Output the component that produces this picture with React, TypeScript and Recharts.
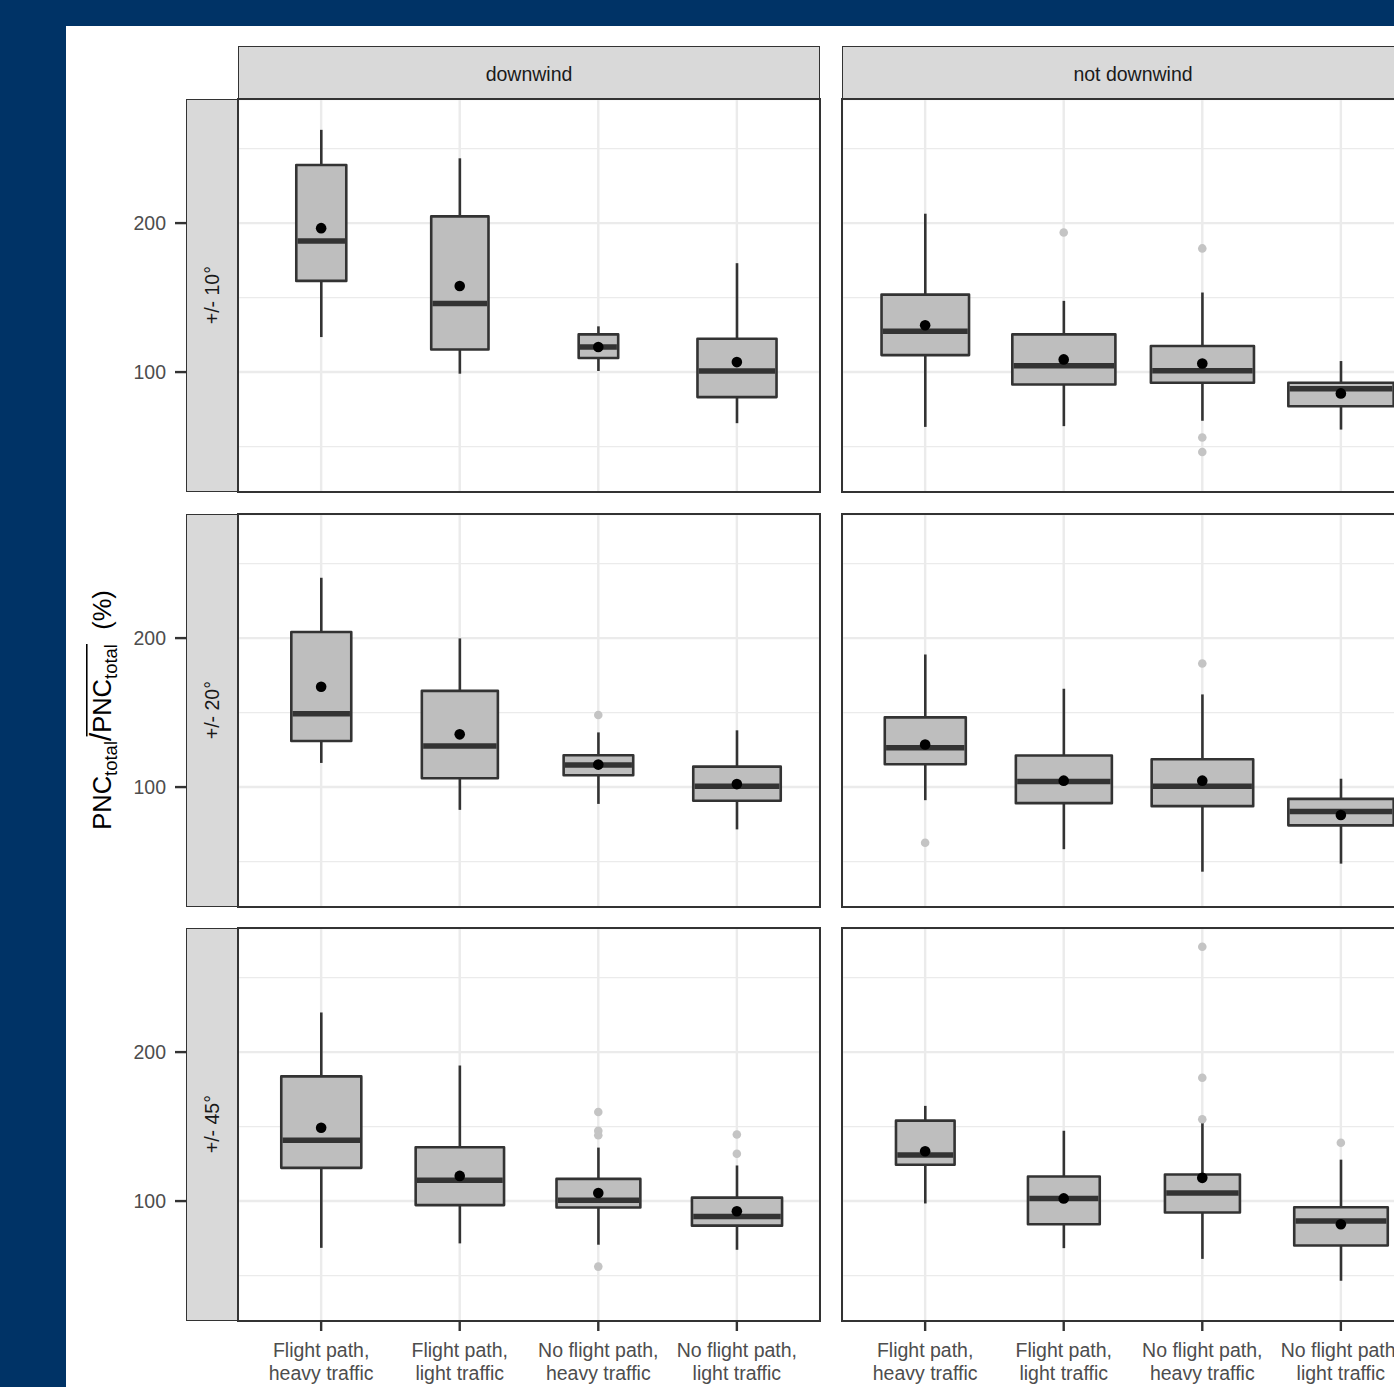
import React, { useLayoutEffect, useRef, useState } from "react";
import { ComposedChart, Bar, Scatter, XAxis, YAxis, CartesianGrid } from "recharts";

const FONT = '"Liberation Sans", Arial, Helvetica, sans-serif';

// ---------- data ----------
const CATEGORIES = [
  "Flight path,\nheavy traffic",
  "Flight path,\nlight traffic",
  "No flight path,\nheavy traffic",
  "No flight path,\nlight traffic",
];
const WIND_LABELS = ["downwind", "not downwind"];
const ANGLE_LABELS = ["+/- 10°", "+/- 20°", "+/- 45°"];
const Y_TICKS = [50, 100, 150, 200, 250];
const Y_LABELLED = [100, 200];
const Y_DOMAIN: [number, number] = [19.5, 283.3];

// Panels in reading order:
// 0: ±10° downwind, 1: ±10° not downwind, 2: ±20° downwind,
// 3: ±20° not downwind, 4: ±45° downwind, 5: ±45° not downwind
const WHISKER_LOW = [
  [123.5, 98.9, 100.7, 65.7],
  [63.2, 63.7, 67.3, 61.4],
  [116.2, 84.7, 88.7, 71.6],
  [91.2, 58.3, 43.2, 48.6],
  [68.6, 71.6, 70.7, 67.3],
  [98.4, 68.4, 61.2, 46.5],
];
const Q1 = [
  [161.2, 115.2, 109.4, 83.2],
  [111.4, 91.7, 92.8, 77.1],
  [130.9, 105.9, 107.9, 90.8],
  [115.3, 89.2, 87.2, 74.3],
  [122.3, 97.3, 95.7, 83.5],
  [124.4, 84.4, 92.3, 70.2],
];
const MEDIAN = [
  [187.9, 146.0, 116.8, 100.7],
  [127.4, 104.3, 100.9, 88.8],
  [149.3, 127.5, 114.9, 100.5],
  [126.4, 103.8, 100.5, 83.6],
  [140.9, 114.0, 100.5, 89.6],
  [130.9, 101.8, 105.4, 86.7],
];
const Q3 = [
  [239.0, 204.5, 125.3, 122.4],
  [152.0, 125.3, 117.5, 92.8],
  [204.1, 164.6, 121.4, 113.7],
  [146.8, 121.2, 118.7, 92.1],
  [183.7, 136.1, 114.9, 102.3],
  [154.0, 116.5, 117.8, 95.9],
];
const WHISKER_HIGH = [
  [262.6, 243.5, 130.7, 173.1],
  [206.3, 147.8, 153.4, 107.4],
  [240.5, 199.8, 136.7, 138.1],
  [189.0, 166.0, 162.2, 105.6],
  [226.6, 191.0, 135.9, 123.9],
  [163.9, 147.2, 152.6, 127.8],
];
const MEAN = [
  [196.6, 157.8, 116.8, 106.7],
  [131.4, 108.5, 105.8, 85.7],
  [167.3, 135.4, 115.1, 102.0],
  [128.6, 104.3, 104.3, 81.3],
  [149.2, 116.9, 105.4, 93.2],
  [133.4, 101.8, 115.6, 84.4],
];
// estimated group sizes (box width ∝ sqrt(n))
const N_OBS = [
  [16, 21, 10, 40],
  [49, 68, 68, 71],
  [23, 37, 31, 49],
  [42, 59, 66, 71],
  [41, 50, 45, 52],
  [22, 33, 36, 56],
];
const N_REF = 100;
// outliers: [panel, category index, value]
const OUTLIERS: [number, number, number][] = [
  [1, 1, 193.7],
  [1, 2, 183.0],
  [1, 2, 56.1],
  [1, 2, 46.4],
  [2, 2, 148.4],
  [3, 0, 62.6],
  [3, 2, 182.9],
  [4, 2, 159.8],
  [4, 2, 147.2],
  [4, 2, 144.2],
  [4, 2, 56.0],
  [4, 3, 144.7],
  [4, 3, 131.8],
  [5, 2, 270.7],
  [5, 2, 182.8],
  [5, 2, 154.9],
  [5, 3, 139.1],
];
const OUT_KEYS = ["out0", "out1", "out2", "out3"];

function panelRows(p: number) {
  return CATEGORIES.map((cat, i) => {
    const outs = OUTLIERS.filter((o) => o[0] === p && o[1] === i).map((o) => o[2]);
    const row: any = {
      cat,
      whisker: [WHISKER_LOW[p][i], WHISKER_HIGH[p][i]],
      box: [Q1[p][i], Q3[p][i]],
      median: [MEDIAN[p][i], MEDIAN[p][i]],
      mean: MEAN[p][i],
      n: N_OBS[p][i],
    };
    OUT_KEYS.forEach((k, j) => {
      row[k] = outs[j] ?? null;
    });
    return row;
  });
}

// ---------- layout / style ----------
const BLUE = "#003366";
const PANEL_W = 582;
const PANEL_H = 393;
const COL_X = [238, 842];
const ROW_Y = [99, 514, 928];
const YAXIS_W = 138;
const XAXIS_H = 67;
const STRIP_TOP_Y = 46;
const STRIP_LEFT_X = 186;
const DARK = "#333333";
const GRID = "#ebebeb";
const BOX_FILL = "#bebebe";
const TEXT_SIZE = 19.5;

const WhiskerShape = (props: any) => {
  const { x, y, width, height } = props;
  if (x == null || y == null) return <g />;
  const cx = x + width / 2;
  return <line x1={cx} x2={cx} y1={y} y2={y + height} stroke={DARK} strokeWidth={2.6} />;
};

const BoxShape = (props: any) => {
  const { x, y, width, height, payload } = props;
  if (x == null || y == null) return <g />;
  const w = width * Math.sqrt(payload.n / N_REF);
  const cx = x + width / 2;
  const top = Math.min(y, y + height);
  const h = Math.abs(height);
  return (
    <rect
      x={cx - w / 2}
      y={top}
      width={w}
      height={h}
      fill={BOX_FILL}
      stroke={DARK}
      strokeWidth={2.6}
      strokeLinejoin="round"
    />
  );
};

const MedianShape = (props: any) => {
  const { x, y, width, height, payload } = props;
  if (x == null || y == null) return <g />;
  const w = width * Math.sqrt(payload.n / N_REF);
  const cx = x + width / 2;
  const my = y + (height || 0) / 2;
  return <line x1={cx - w / 2 + 1.3} x2={cx + w / 2 - 1.3} y1={my} y2={my} stroke={DARK} strokeWidth={5.5} />;
};

const outlierShape = (key: string) => (props: any) => {
  const { cx, cy, payload } = props;
  if (!payload || payload[key] == null || cx == null || cy == null || isNaN(cy)) return <g />;
  return <circle cx={cx} cy={cy} r={4.3} fill="#c4c4c4" />;
};

const MeanShape = (props: any) => {
  const { cx, cy } = props;
  if (cx == null || cy == null) return <g />;
  return <circle cx={cx} cy={cy} r={5.3} fill="#000000" />;
};

const gridH = (props: any) => (
  <line
    key={props.key}
    x1={props.x1}
    y1={props.y1}
    x2={props.x2}
    y2={props.y2}
    stroke={GRID}
    strokeWidth={props.index % 2 === 1 ? 2.4 : 1.2}
  />
);
const gridV = (props: any) => (
  <line key={props.key} x1={props.x1} y1={props.y1} x2={props.x2} y2={props.y2} stroke={GRID} strokeWidth={2.4} />
);

const XTick = (props: any) => {
  const { x, y, payload } = props;
  const lines = String(payload.value).split("\n");
  return (
    <g>
      <line x1={x} x2={x} y1={y} y2={y + 10} stroke={DARK} strokeWidth={2.4} />
      <text x={x} y={y + 36} textAnchor="middle" fontSize={TEXT_SIZE} fill="#4d4d4d" fontFamily={FONT}>
        {lines.map((l, i) => (
          <tspan key={i} x={x} dy={i === 0 ? 0 : 23}>
            {l}
          </tspan>
        ))}
      </text>
    </g>
  );
};

const EmptyTick = () => <g />;

const YTick = (props: any) => {
  const { x, y, payload } = props;
  if (!Y_LABELLED.includes(payload.value)) return <g />;
  return (
    <g>
      <line x1={x - 63} x2={x - 52} y1={y} y2={y} stroke={DARK} strokeWidth={2.4} />
      <text x={x - 72} y={y + 7} textAnchor="end" fontSize={TEXT_SIZE} fill="#4d4d4d" fontFamily={FONT}>
        {payload.value}
      </text>
    </g>
  );
};

function Panel({ row, col }: { row: number; col: number }) {
  const p = row * 2 + col;
  const data = panelRows(p);
  const isLeft = col === 0;
  const isBottom = row === ROW_Y.length - 1;
  const width = PANEL_W + (isLeft ? YAXIS_W : 0);
  const height = PANEL_H + (isBottom ? XAXIS_H : 0);
  const left = COL_X[col] - (isLeft ? YAXIS_W : 0);
  const top = ROW_Y[row];
  const padPx = (PANEL_W * 0.1) / 4.2;
  const pad = { left: padPx, right: padPx };
  return (
    <div style={{ position: "absolute", left, top }}>
      <ComposedChart
        width={width}
        height={height}
        data={data}
        margin={{ top: 0, right: 0, bottom: 0, left: 0 }}
        barCategoryGap="5%"
      >
        <CartesianGrid horizontal={gridH} vertical={gridV} />
        <XAxis
          dataKey="cat"
          type="category"
          padding={pad}
          interval={0}
          tickLine={false}
          axisLine={false}
          tickSize={0}
          tickMargin={0}
          height={isBottom ? XAXIS_H : 0}
          tick={isBottom ? XTick : EmptyTick}
        />
        <XAxis xAxisId="box" dataKey="cat" type="category" padding={pad} hide />
        <XAxis xAxisId="med" dataKey="cat" type="category" padding={pad} hide />
        <YAxis
          type="number"
          domain={Y_DOMAIN}
          ticks={Y_TICKS}
          interval={0}
          allowDataOverflow
          width={isLeft ? YAXIS_W : 0}
          tick={isLeft ? YTick : EmptyTick}
          tickLine={false}
          axisLine={false}
          tickSize={0}
          tickMargin={0}
        />
        <Bar dataKey="whisker" shape={WhiskerShape} isAnimationActive={false} />
        <Bar xAxisId="box" dataKey="box" shape={BoxShape} isAnimationActive={false} />
        <Bar xAxisId="med" dataKey="median" shape={MedianShape} isAnimationActive={false} />
        {OUT_KEYS.map((k) => (
          <Scatter key={k} dataKey={k} shape={outlierShape(k)} isAnimationActive={false} />
        ))}
        <Scatter dataKey="mean" shape={MeanShape} isAnimationActive={false} />
      </ComposedChart>
    </div>
  );
}

const TITLE_SIZE = 25.5;
const SUB_SIZE = 18.5;

function YTitle() {
  const ref = useRef<SVGTextElement>(null);
  const [ol, setOl] = useState<[number, number] | null>(null);
  useLayoutEffect(() => {
    const t = ref.current;
    if (!t) return;
    try {
      const a = t.getStartPositionOfChar(8).x;
      const b = t.getEndPositionOfChar(16).x;
      setOl([a, b]);
    } catch (e) {
      /* ignore */
    }
  }, []);
  return (
    <svg
      style={{ position: "absolute", left: 66, top: 26, overflow: "visible" }}
      width={110}
      height={1361}
    >
      <g transform={`translate(${111 - 66},${710 - 26}) rotate(-90)`}>
        <text ref={ref} textAnchor="middle" fontFamily={FONT} fontSize={TITLE_SIZE} fill="#000">
          <tspan>PNC</tspan>
          <tspan fontSize={SUB_SIZE} dy={6}>
            total
          </tspan>
          <tspan dy={-6} fontSize={TITLE_SIZE * 1.15}>
            /
          </tspan>
          <tspan>PNC</tspan>
          <tspan fontSize={SUB_SIZE} dy={6}>
            total
          </tspan>
          <tspan dy={-6}>{"\u00a0\u00a0(%)"}</tspan>
        </text>
        {ol && (
          <line
            x1={ol[0] + TITLE_SIZE * 0.18}
            x2={ol[1]}
            y1={-TITLE_SIZE * 0.95}
            y2={-TITLE_SIZE * 0.95}
            stroke="#000"
            strokeWidth={1.6}
          />
        )}
      </g>
    </svg>
  );
}

export default function App() {
  return (
    <div
      style={{
        position: "absolute",
        left: 0,
        top: 0,
        width: 1394,
        height: 1387,
        overflow: "hidden",
        background: BLUE,
        fontFamily: FONT,
      }}
    >
      <div style={{ position: "absolute", left: 66, top: 26, width: 1328, height: 1361, background: "#ffffff" }} />
      <YTitle />
      {ROW_Y.map((_, r) =>
        COL_X.map((__, c) => <Panel key={`${r}-${c}`} row={r} col={c} />)
      )}
      {/* column strips */}
      {WIND_LABELS.map((lab, c) => (
        <div
          key={lab}
          style={{
            position: "absolute",
            left: COL_X[c],
            top: STRIP_TOP_Y,
            width: PANEL_W,
            height: ROW_Y[0] - STRIP_TOP_Y,
            boxSizing: "border-box",
            background: "#d9d9d9",
            border: `1px solid ${DARK}`,
            display: "flex",
            alignItems: "center",
            justifyContent: "center",
            paddingTop: 3,
            fontSize: TEXT_SIZE,
            color: "#1a1a1a",
          }}
        >
          {lab}
        </div>
      ))}
      {/* row strips */}
      {ANGLE_LABELS.map((lab, r) => (
        <div
          key={lab}
          style={{
            position: "absolute",
            left: STRIP_LEFT_X,
            top: ROW_Y[r],
            width: COL_X[0] - STRIP_LEFT_X,
            height: PANEL_H,
            boxSizing: "border-box",
            background: "#d9d9d9",
            border: `1px solid ${DARK}`,
            display: "flex",
            alignItems: "center",
            justifyContent: "center",
            fontSize: TEXT_SIZE,
            color: "#1a1a1a",
          }}
        >
          <span style={{ writingMode: "vertical-rl", transform: "rotate(180deg)", whiteSpace: "nowrap" }}>{lab}</span>
        </div>
      ))}
      {/* panel borders */}
      {ROW_Y.map((y, r) =>
        COL_X.map((x, c) => (
          <div
            key={`b${r}-${c}`}
            style={{
              position: "absolute",
              left: x - 1,
              top: y - 1,
              width: PANEL_W + 2,
              height: PANEL_H + 2,
              boxSizing: "border-box",
              border: `2px solid ${DARK}`,
              pointerEvents: "none",
            }}
          />
        ))
      )}
    </div>
  );
}
